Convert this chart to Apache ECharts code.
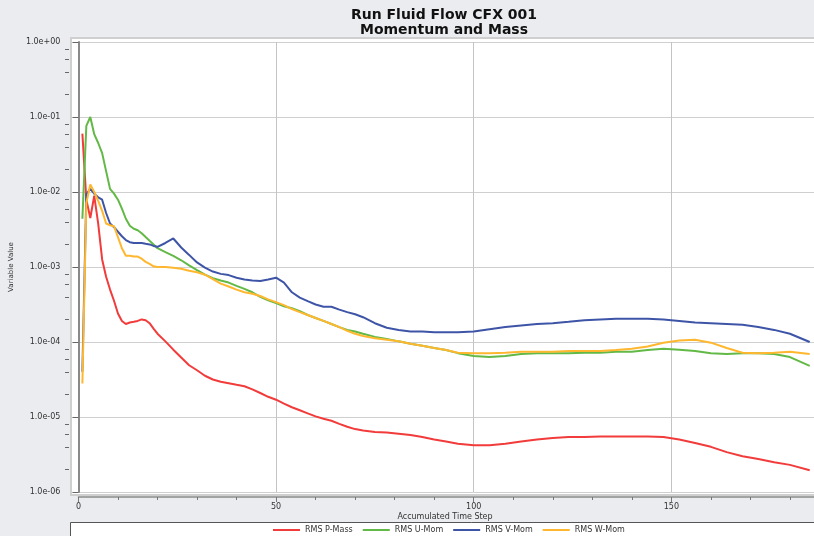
<!DOCTYPE html>
<html><head><meta charset="utf-8">
<script src="https://cdn.jsdelivr.net/npm/echarts@6/dist/echarts.min.js"></script>
<style>html,body{margin:0;padding:0;background:#eaecef;overflow:hidden;width:814px;height:536px}#c{width:872px;height:536px}</style>
</head><body><div id="c"></div>
<script>
// ---- data ----
const titleLines = ['Run Fluid Flow CFX 001', 'Momentum and Mass'];
const xAxisName = 'Accumulated Time Step';
const yAxisName = 'Variable Value';
const seriesNames = ['RMS P-Mass', 'RMS U-Mom', 'RMS V-Mom', 'RMS W-Mom'];
const xTickValues = [0, 50, 100, 150];
const yTickValues = [1, 1e-1, 1e-2, 1e-3, 1e-4, 1e-5, 1e-6];
const yTickLabels = ['1.0e+00', '1.0e-01', '1.0e-02', '1.0e-03', '1.0e-04', '1.0e-05', '1.0e-06'];
const yMinorFactors = [0.2, 0.4, 0.6, 0.8];

const steps = [1,2,3,4,5,6,7,8,9,10,11,12,13,14,15,16,17,18,19,20,22,24,26,28,30,32,34,36,38,40,42,44,46,48,50,52,54,56,58,60,62,64,66,68,70,72,75,78,81,84,87,90,93,96,100,104,108,112,116,120,124,128,132,136,140,144,148,152,156,160,164,168,172,176,180,185];

const pMass = [6.0e-2,7.9e-3,4.5e-3,8.9e-3,3.8e-3,1.26e-3,7.4e-4,5.0e-4,3.55e-4,2.4e-4,1.91e-4,1.74e-4,1.82e-4,1.86e-4,1.91e-4,2.0e-4,1.95e-4,1.78e-4,1.51e-4,1.29e-4,1.02e-4,7.9e-5,6.2e-5,4.9e-5,4.2e-5,3.55e-5,3.16e-5,2.95e-5,2.82e-5,2.69e-5,2.57e-5,2.34e-5,2.09e-5,1.86e-5,1.70e-5,1.51e-5,1.35e-5,1.23e-5,1.12e-5,1.02e-5,9.5e-6,8.9e-6,8.1e-6,7.4e-6,6.9e-6,6.6e-6,6.3e-6,6.2e-6,6.0e-6,5.75e-6,5.4e-6,5.0e-6,4.7e-6,4.4e-6,4.2e-6,4.2e-6,4.4e-6,4.7e-6,5.0e-6,5.25e-6,5.4e-6,5.4e-6,5.5e-6,5.5e-6,5.5e-6,5.5e-6,5.4e-6,5.0e-6,4.5e-6,4.0e-6,3.4e-6,3.0e-6,2.75e-6,2.5e-6,2.3e-6,1.95e-6];

const uMom = [4.4e-3,7.6e-2,1.0e-1,5.9e-2,4.5e-2,3.3e-2,1.9e-2,1.1e-2,9.5e-3,7.9e-3,6.0e-3,4.4e-3,3.55e-3,3.24e-3,3.09e-3,2.82e-3,2.51e-3,2.24e-3,2.0e-3,1.78e-3,1.58e-3,1.41e-3,1.23e-3,1.05e-3,9.1e-4,7.9e-4,7.1e-4,6.6e-4,6.2e-4,5.6e-4,5.1e-4,4.6e-4,4.0e-4,3.6e-4,3.3e-4,3.0e-4,2.82e-4,2.57e-4,2.29e-4,2.09e-4,1.91e-4,1.74e-4,1.58e-4,1.45e-4,1.38e-4,1.29e-4,1.17e-4,1.10e-4,1.02e-4,9.5e-5,8.9e-5,8.3e-5,7.8e-5,7.1e-5,6.5e-5,6.3e-5,6.5e-5,6.9e-5,7.1e-5,7.1e-5,7.1e-5,7.2e-5,7.2e-5,7.4e-5,7.4e-5,7.8e-5,8.1e-5,7.9e-5,7.6e-5,7.1e-5,6.9e-5,7.1e-5,7.1e-5,6.9e-5,6.3e-5,4.8e-5];

const vMom = [4.0e-5,9.3e-3,1.1e-2,9.5e-3,8.5e-3,7.9e-3,5.25e-3,3.8e-3,3.4e-3,2.95e-3,2.57e-3,2.29e-3,2.14e-3,2.09e-3,2.09e-3,2.09e-3,2.04e-3,2.0e-3,1.91e-3,1.86e-3,2.09e-3,2.4e-3,1.82e-3,1.45e-3,1.15e-3,9.8e-4,8.7e-4,8.1e-4,7.8e-4,7.2e-4,6.8e-4,6.6e-4,6.5e-4,6.8e-4,7.2e-4,6.2e-4,4.6e-4,3.9e-4,3.5e-4,3.16e-4,2.95e-4,2.95e-4,2.7e-4,2.5e-4,2.34e-4,2.14e-4,1.78e-4,1.55e-4,1.45e-4,1.38e-4,1.38e-4,1.35e-4,1.35e-4,1.35e-4,1.38e-4,1.48e-4,1.58e-4,1.66e-4,1.74e-4,1.78e-4,1.86e-4,1.95e-4,2.0e-4,2.04e-4,2.04e-4,2.04e-4,2.0e-4,1.91e-4,1.82e-4,1.78e-4,1.74e-4,1.70e-4,1.58e-4,1.45e-4,1.29e-4,1.0e-4];

const wMom = [2.8e-5,7.1e-3,1.26e-2,1.0e-2,7.6e-3,5.6e-3,3.8e-3,3.6e-3,3.5e-3,2.5e-3,1.78e-3,1.41e-3,1.41e-3,1.38e-3,1.38e-3,1.29e-3,1.17e-3,1.10e-3,1.02e-3,1.0e-3,1.0e-3,9.8e-4,9.5e-4,8.9e-4,8.5e-4,7.9e-4,6.9e-4,6.0e-4,5.5e-4,5.0e-4,4.6e-4,4.4e-4,4.1e-4,3.7e-4,3.4e-4,3.1e-4,2.75e-4,2.5e-4,2.29e-4,2.09e-4,1.91e-4,1.74e-4,1.58e-4,1.41e-4,1.29e-4,1.2e-4,1.12e-4,1.07e-4,1.02e-4,9.5e-5,8.9e-5,8.3e-5,7.8e-5,7.2e-5,7.1e-5,7.1e-5,7.2e-5,7.4e-5,7.4e-5,7.4e-5,7.6e-5,7.6e-5,7.6e-5,7.8e-5,8.1e-5,8.7e-5,9.8e-5,1.05e-4,1.07e-4,9.8e-5,8.3e-5,7.2e-5,7.1e-5,7.2e-5,7.4e-5,6.9e-5];

// ---- chart ----
const colors = ['#f23b3b', '#62b946', '#3e55a7', '#ffb730'];
const FONT = 'DejaVu Sans';
const GRID = {left: 76, top: 42, right: 0, bottom: 44};
const allSeries = [pMass, uMom, vMom, wMom];

const chart = echarts.init(document.getElementById('c'), null, {renderer: 'canvas'});

const option = {
  animation: false,
  backgroundColor: '#eaecef',
  color: colors,
  grid: GRID,
  legend: {
    left: 273, top: 526, padding: 0, itemWidth: 27, itemHeight: 2, itemGap: 10, icon: 'rect',
    textStyle: {fontFamily: FONT, fontSize: 8, color: '#333'},
    data: seriesNames
  },
  xAxis: {
    type: 'value', min: 0, max: 200, interval: 50,
    offset: 5,
    axisLine: {show: true, lineStyle: {color: '#8a8a8a', width: 1.5}},
    axisTick: {show: true, length: 5, lineStyle: {color: '#777'}},
    minorTick: {show: true, splitNumber: 5, length: 3, lineStyle: {color: '#777'}},
    axisLabel: {fontFamily: FONT, fontSize: 8, color: '#333', margin: 6,
      formatter: v => xTickValues.indexOf(v) >= 0 ? String(v) : ''},
    splitLine: {show: true, lineStyle: {color: '#c4c4c4', width: 1}}
  },
  yAxis: {
    type: 'log', logBase: 10, min: yTickValues[yTickValues.length - 1], max: yTickValues[0],
    splitNumber: 6,
    offset: 7,
    name: yAxisName, nameLocation: 'middle', nameGap: 55,
    nameTextStyle: {fontFamily: FONT, fontSize: 7, color: '#333'},
    axisLine: {show: true, lineStyle: {color: '#8a8a8a', width: 2}},
    axisTick: {show: true, length: 6, lineStyle: {color: '#666'}},
    axisLabel: {fontFamily: FONT, fontSize: 8, color: '#333', margin: 11,
      formatter: v => {
        for (let i = 0; i < yTickValues.length; i++) {
          if (Math.abs(Math.log10(v) - Math.log10(yTickValues[i])) < 1e-6) return yTickLabels[i];
        }
        return '';
      }},
    splitLine: {show: true, lineStyle: {color: '#cfcfcf', width: 1}}
  },
  series: seriesNames.map((name, k) => ({
    name: name, type: 'line', symbol: 'none', showSymbol: false,
    lineStyle: {width: 2, color: colors[k]},
    itemStyle: {color: colors[k]},
    z: 3 + k,
    data: steps.map((s, i) => [s, allSeries[k][i]])
  }))
};
chart.setOption(option);

// frame, titles, legend box, minor ticks on the log axis
const graphics = [
  {type: 'rect', z: -10, silent: true,
   shape: {x: 71, y: 38, width: 820, height: 457},
   style: {fill: '#ffffff', stroke: '#cfcfcf', lineWidth: 2}},
  {type: 'rect', z: -10, silent: true,
   shape: {x: 70.5, y: 522.5, width: 820, height: 30},
   style: {fill: '#ffffff', stroke: '#555', lineWidth: 1}},
  {type: 'text', z: 10, silent: true,
   style: {text: titleLines[0], x: 444, y: 8, align: 'center', verticalAlign: 'top',
           font: 'bold 14px "DejaVu Sans"', fill: '#111'}},
  {type: 'text', z: 10, silent: true,
   style: {text: titleLines[1], x: 444, y: 23, align: 'center', verticalAlign: 'top',
           font: 'bold 14px "DejaVu Sans"', fill: '#111'}},
  {type: 'text', z: 10, silent: true,
   style: {text: xAxisName, x: 445, y: 517, align: 'center', verticalAlign: 'middle',
           font: '8px "DejaVu Sans"', fill: '#333'}}
];
const axisX = GRID.left - 7;
for (let d = 0; d < yTickValues.length - 1; d++) {
  const base = yTickValues[d + 1];
  yMinorFactors.forEach(f => {
    const v = base * f * 10;
    const py = chart.convertToPixel({yAxisIndex: 0}, v);
    graphics.push({type: 'line', z: 10, silent: true,
      shape: {x1: axisX - 4, y1: Math.round(py) + 0.5, x2: axisX, y2: Math.round(py) + 0.5},
      style: {stroke: '#666', lineWidth: 1}});
  });
}
chart.setOption({graphic: graphics});
</script>
</body></html>
